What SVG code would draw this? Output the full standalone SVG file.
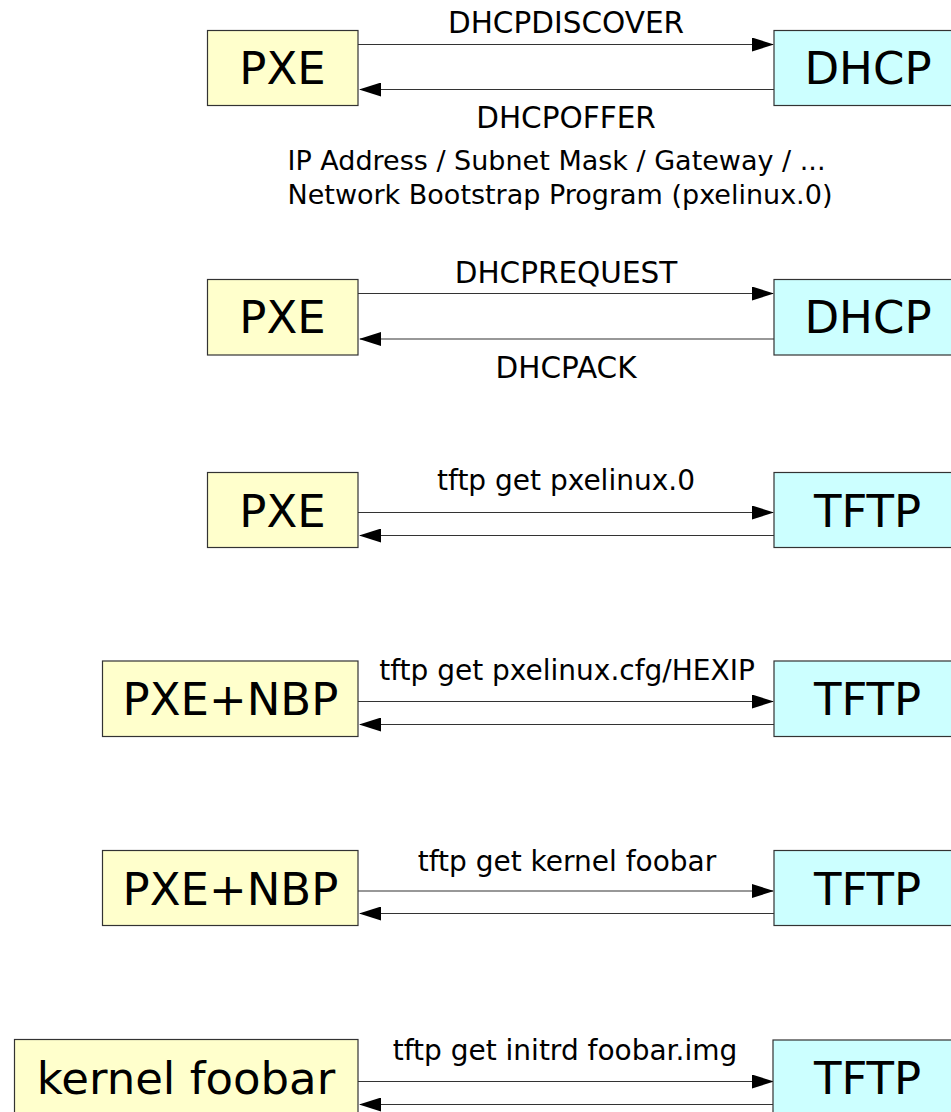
<svg xmlns="http://www.w3.org/2000/svg" width="951" height="1112" viewBox="0 0 951 1112">
<style>
.bg{fill:#ffffff}
.client{fill:#ffffcc;stroke:#333333;stroke-width:1.2}
.server{fill:#ccffff;stroke:#333333;stroke-width:1.2}
.nt{font-family:"DejaVu Sans",sans-serif;font-size:45px;fill:#000;text-anchor:middle}
.lb{font-family:"DejaVu Sans",sans-serif;font-size:28px;fill:#000;text-anchor:middle}
.cap{font-size:29.5px}
.info{font-family:"DejaVu Sans",sans-serif;font-size:27px;fill:#000}
.ln{stroke:#333333;stroke-width:1.2;fill:none}
.fw{marker-end:url(#ah)}
</style>
<defs>
<marker id="ah" markerUnits="userSpaceOnUse" markerWidth="22" markerHeight="14" refX="21" refY="7" orient="auto">
<path d="M0,0 L22,7 L0,14 z" fill="#000"/>
</marker>
</defs>
<rect class="bg" x="0" y="0" width="951" height="1112"/>

<g id="connectors">
<line class="ln fw" x1="358" y1="44.5" x2="773" y2="44.5"/>
<line class="ln fw" x1="774" y1="89.5" x2="360" y2="89.5"/>
<line class="ln fw" x1="358" y1="293.5" x2="773" y2="293.5"/>
<line class="ln fw" x1="774" y1="339" x2="360" y2="339"/>
<line class="ln fw" x1="358" y1="512.5" x2="773" y2="512.5"/>
<line class="ln fw" x1="774" y1="535.5" x2="360" y2="535.5"/>
<line class="ln fw" x1="358" y1="701.5" x2="773" y2="701.5"/>
<line class="ln fw" x1="774" y1="724.5" x2="360" y2="724.5"/>
<line class="ln fw" x1="358" y1="891" x2="773" y2="891"/>
<line class="ln fw" x1="774" y1="913.5" x2="360" y2="913.5"/>
<line class="ln fw" x1="358" y1="1081.5" x2="773" y2="1081.5"/>
<line class="ln fw" x1="774" y1="1104.5" x2="360" y2="1104.5"/>
</g>

<g id="labels">
<text class="lb cap" x="566" y="33">DHCPDISCOVER</text>
<text class="lb cap" x="566" y="128">DHCPOFFER</text>
<text class="info" x="287.5" y="169.5">IP Address / Subnet Mask / Gateway / ...</text>
<text class="info" x="287.5" y="203.5">Network Bootstrap Program (pxelinux.0)</text>
<text class="lb cap" x="566" y="282.5">DHCPREQUEST</text>
<text class="lb cap" x="566" y="377.5">DHCPACK</text>
<text class="lb" x="566" y="489.5">tftp get pxelinux.0</text>
<text class="lb" x="567" y="679.5">tftp get pxelinux.cfg/HEXIP</text>
<text class="lb" x="567" y="871">tftp get kernel foobar</text>
<text class="lb" x="565" y="1059.5">tftp get initrd foobar.img</text>
</g>

<g id="pxe1"><rect class="client" x="207.5" y="30.5" width="150.5" height="75"/><text class="nt" x="282.5" y="84">PXE</text></g>
<g id="dhcp1"><rect class="server" x="774" y="30.5" width="188" height="75"/><text class="nt" x="868" y="84">DHCP</text></g>

<g id="pxe2"><rect class="client" x="207.5" y="279.5" width="150.5" height="75.5"/><text class="nt" x="282.5" y="333">PXE</text></g>
<g id="dhcp2"><rect class="server" x="774" y="279.5" width="188" height="75.5"/><text class="nt" x="868" y="333">DHCP</text></g>

<g id="pxe3"><rect class="client" x="207.5" y="472.5" width="150.5" height="75"/><text class="nt" x="282.5" y="526.5">PXE</text></g>
<g id="tftp3"><rect class="server" x="774" y="472.5" width="188" height="75"/><text class="nt" x="867.5" y="526.5">TFTP</text></g>

<g id="nbp4"><rect class="client" x="102.5" y="661" width="255.5" height="75.5"/><text class="nt" x="230.5" y="715">PXE+NBP</text></g>
<g id="tftp4"><rect class="server" x="774" y="661" width="188" height="75.5"/><text class="nt" x="867.5" y="715">TFTP</text></g>

<g id="nbp5"><rect class="client" x="102.5" y="850.5" width="255.5" height="75"/><text class="nt" x="230.5" y="904.5">PXE+NBP</text></g>
<g id="tftp5"><rect class="server" x="774" y="850.5" width="188" height="75"/><text class="nt" x="867.5" y="904.5">TFTP</text></g>

<g id="kernel6"><rect class="client" x="14.5" y="1039.5" width="343.5" height="75"/><text class="nt" x="186" y="1093.5">kernel foobar</text></g>
<g id="tftp6"><rect class="server" x="773" y="1040" width="189" height="75"/><text class="nt" x="867.5" y="1094">TFTP</text></g>
</svg>
